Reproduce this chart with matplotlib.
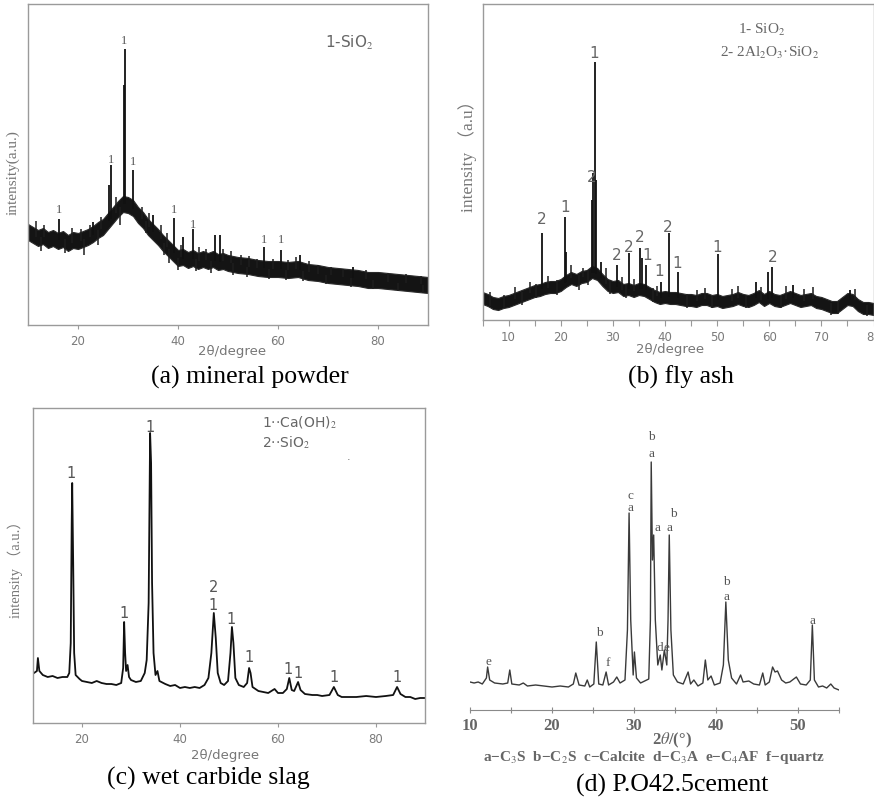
import matplotlib
matplotlib.use("Agg")
import matplotlib.pyplot as plt

plt.rcParams['mathtext.fontset'] = 'stix'

W, H = 874, 800
GREY = '#7a7a7a'
SERIF = 'Liberation Serif'

# ---------------- (a) mineral powder : noisy band + sharp peaks ----------------
base_a_x = [10, 11, 12, 13, 14, 15, 16, 17, 18, 19, 20, 21, 22, 23, 24, 25, 26, 27, 28,
            29, 30, 31, 32, 33, 34, 35, 36, 37, 38, 39, 40, 41, 42, 43, 44, 45, 46, 47,
            48, 49, 50, 52, 54, 56, 58, 60, 62, 64, 66, 68, 70, 72, 74, 76, 78, 80, 82,
            84, 86, 88, 90]
base_a_y = [93, 90, 87, 89, 85, 87, 84, 86, 82, 85, 84, 86, 88, 91, 95, 98, 104, 110, 116,
            121, 120, 117, 110, 105, 98, 93, 88, 82, 77, 72, 67, 68, 65, 67, 64, 66, 64, 66,
            63, 64, 62, 60, 59, 57, 56, 56, 55, 56, 53, 52, 50, 49, 48, 47, 45, 45, 44,
            43, 42, 41, 40]
noise_a = 8
peak_a_x = [16.2, 23.0, 26.2, 26.6, 29.2, 29.3, 31.0, 35.0, 39.2, 41.0, 43.0, 47.3, 48.3,
            57.2, 60.5, 64.3, 75.0]
peak_a_top = [106, 103, 140, 160, 240, 276, 155, 110, 107, 88, 96, 90, 90, 78, 75, 70, 58]
peak_a_foot = [85, 90, 104, 106, 121, 121, 116, 93, 72, 66, 66, 64, 63, 57, 56, 55, 47]
# small noise excursions (x, low end, high end)
spike_a_x = [11.5, 12.5, 13.2, 17.3, 18.7, 20.5, 21.2, 22.3, 24.0, 24.6, 27.6, 28.3, 32.8,
             33.5, 34.2, 36.5, 37.1, 37.8, 38.2, 40.0, 40.5, 43.5, 44.2, 45.5, 46.5, 49.0,
             50.5, 51.0, 52.6, 53.7, 54.1, 55.8, 58.2, 59.0, 61.5, 62.0, 63.5, 65.0, 66.2,
             68.0, 69.5, 70.5, 73.0, 74.5, 77.5, 79.0, 82.0, 84.0, 85.5, 88.5, 89.0]
spike_a_lo = [88, 74, 88, 72, 82, 84, 70, 88, 80, 96, 112, 100, 106, 92, 98, 86, 70, 78, 62,
              55, 68, 54, 64, 65, 52, 64, 62, 50, 60, 48, 58, 57, 46, 56, 45, 55, 56, 44, 53,
              51, 41, 50, 48, 38, 46, 36, 43, 34, 42, 41, 32]
spike_a_hi = [104, 88, 100, 86, 97, 96, 86, 100, 95, 108, 128, 118, 118, 104, 112, 100, 82,
              92, 76, 67, 80, 66, 78, 76, 64, 76, 74, 62, 70, 58, 69, 66, 56, 66, 55, 65, 68,
              54, 64, 60, 50, 58, 56, 47, 55, 45, 52, 42, 51, 49, 40]
lab_a_x = [16.2, 26.6, 29.3, 31.0, 39.2, 43.0, 57.2, 60.6]
lab_a_y = [115, 165, 284, 163, 115, 100, 85, 85]
lab_a_t = ['1', '1', '1', '1', '1', '1', '1', '1']

# ---------------- (b) fly ash ----------------
base_b_x = list(range(5, 81))
base_b_y = [22, 20, 17, 16, 18, 19, 21, 23, 25, 27, 29, 30, 32, 33, 33, 35, 39, 42, 40, 43,
            44, 48, 46, 40, 35, 33, 34, 30, 31, 29, 31, 30, 27, 24, 22, 23, 22, 22, 21, 20,
            20, 19, 21, 21, 19, 20, 18, 19, 20, 22, 20, 19, 21, 24, 20, 23, 20, 19, 21, 23,
            21, 19, 20, 21, 18, 17, 15, 13, 13, 17, 21, 20, 15, 12, 12, 11]
noise_b = 6
peak_b_x = [16.4, 20.8, 21.1, 26.0, 26.2, 26.6, 26.8, 27.8, 30.8, 33.1, 35.2, 35.5, 36.4,
            39.2, 40.7, 42.5, 50.1, 57.5, 59.8, 60.5, 64.5, 75.5]
peak_b_top = [87, 103, 68, 120, 147, 258, 140, 58, 55, 67, 72, 62, 55, 38, 87, 48, 66, 38,
              48, 53, 35, 30]
peak_b_foot = [31, 37, 38, 47, 47, 47, 46, 42, 33, 31, 31, 31, 30, 22, 23, 22, 20, 22, 21,
               22, 22, 20]
spike_b_x = [6.5, 9.2, 11.3, 12.6, 14.1, 15.2, 17.6, 19.2, 22.0, 23.5, 24.3, 25.2, 28.6,
             29.5, 31.8, 32.5, 34.1, 37.8, 38.5, 44.2, 46.1, 47.6, 49.0, 52.8, 54.0, 55.6,
             58.4, 62.2, 63.3, 66.7, 68.3, 71.8, 73.2, 76.4, 78.8]
spike_b_lo = [14, 12, 21, 15, 27, 22, 32, 25, 42, 30, 43, 35, 36, 26, 30, 22, 29, 18, 24,
              12, 19, 21, 12, 19, 22, 12, 20, 12, 21, 19, 21, 5, 6, 20, 4]
spike_b_hi = [28, 25, 33, 28, 38, 36, 44, 40, 55, 45, 52, 50, 52, 40, 43, 35, 41, 32, 34,
              26, 30, 32, 24, 31, 34, 24, 33, 24, 34, 31, 33, 17, 18, 31, 15]
lab_b_x = [16.4, 20.8, 25.9, 26.5, 30.8, 33.1, 35.2, 36.5, 38.9, 40.6, 42.4, 50.0, 60.6]
lab_b_y = [100, 112, 143, 267, 65, 73, 82, 65, 48, 93, 57, 73, 62]
lab_b_t = ['2', '1', '2', '1', '2', '2', '2', '1', '1', '2', '1', '1', '2']

# ---------------- (c) wet carbide slag ----------------
trace_c_x = [10.2, 10.8, 11.0, 11.3, 12, 13, 14, 15, 16, 17, 17.4, 17.7, 17.9, 18.0, 18.2,
             18.4, 18.7, 19.5, 20, 21, 22, 23, 24, 25, 26, 27, 28, 28.4, 28.6, 28.8, 29.0,
             29.3, 29.6, 30, 31, 32, 32.8, 33.2, 33.6, 33.9, 34.1, 34.3, 34.6, 35.0, 35.4,
             35.8, 37, 38, 39, 40, 41, 42, 43, 44, 45, 45.8, 46.4, 46.9, 47.3, 47.7, 48.3,
             49, 49.8, 50.3, 50.6, 50.9, 51.3, 52, 53, 53.7, 54.1, 54.4, 54.8, 56, 57, 58,
             59.3, 60, 61, 61.8, 62.3, 62.8, 63.3, 64.1, 64.6, 65.5, 67, 68, 69, 70.5, 71.4,
             72.2, 73, 74, 76, 78, 80, 82, 83.5, 84.3, 85, 86, 87, 88, 89, 90]
trace_c_y = [50, 52, 65, 52, 48, 46, 47, 45, 46, 46, 50, 80, 200, 240, 160,
             70, 48, 44, 42, 41, 40, 42, 40, 39, 39, 38, 40, 55, 101, 70, 52,
             58, 46, 43, 41, 42, 50, 63, 120, 290, 260, 140, 70, 48, 52,
             42, 39, 37, 38, 35, 36, 35, 36, 35, 38, 45, 70, 110, 85, 50, 40,
             38, 42, 70, 96, 80, 45, 38, 36, 40, 55, 50, 36, 32, 31, 30,
             34, 30, 30, 34, 45, 33, 32, 41, 33, 29, 28, 28, 27, 28, 36,
             28, 26, 26, 26, 27, 26, 27, 28, 36, 29, 26, 26, 24, 25, 25]
lab_c_x = [17.8, 28.6, 33.9, 46.8, 46.8, 50.5, 54.0, 62.0, 64.1, 71.4, 84.2]
lab_c_y = [250, 110, 296, 117, 136, 103, 66, 54, 50, 45, 46]
lab_c_t = ['1', '1', '1', '1', '2', '1', '1', '1', '1', '1', '1']

# ---------------- (d) P.O42.5 cement ----------------
trace_d_x = [10, 10.5, 11, 11.5, 12.0, 12.15, 12.4, 13, 14, 14.6, 14.85, 15.1, 16, 16.5, 17,
             18, 19, 20, 21, 22, 22.6, 22.9, 23.3, 24, 24.3, 24.6, 25.1, 25.4, 25.7, 26.2,
             26.6, 26.9, 27.5, 27.9, 28.3, 28.9, 29.2, 29.4, 29.6, 29.9, 30.05, 30.3, 30.8,
             31.3, 31.8, 32.0, 32.1, 32.25, 32.4, 32.6, 32.9, 33.2, 33.4, 33.7, 34.0, 34.15,
             34.3, 34.5, 34.8, 35.3, 36, 36.6, 36.9, 37.3, 37.8, 38.4, 38.7, 39.0, 39.4, 39.8,
             40.5, 40.9, 41.2, 41.5, 41.9, 42.5, 43.0, 43.3, 44, 44.6, 45.3, 45.7, 46.0, 46.5,
             46.9, 47.2, 47.5, 48, 48.5, 49, 49.8, 50.3, 51, 51.5, 51.75, 52.0, 52.5, 53,
             53.5, 54, 54.4, 55]
trace_d_y = [28, 27, 28, 26, 32, 43, 30, 27, 26, 27, 40, 26, 25, 27, 24,
             25, 24, 23, 24, 23, 26, 37, 25, 24, 30, 23, 26, 68, 26, 25,
             38, 25, 28, 33, 27, 30, 80, 197, 90, 35, 58, 32, 27,
             29, 31, 90, 248, 150, 175, 90, 45, 55, 40, 60, 45, 90,
             175, 80, 35, 28, 26, 38, 26, 30, 24, 27, 50, 30, 34, 25,
             27, 45, 108, 50, 32, 26, 35, 28, 29, 26, 25, 37, 25, 28,
             43, 38, 39, 30, 27, 28, 33, 26, 25, 30, 85, 30, 23, 24,
             22, 26, 22, 20]
lab_d_x = [12.2, 25.8, 26.8, 29.6, 29.6, 32.1, 32.1, 32.9, 34.3, 34.8, 33.2, 34.0, 41.3, 41.3, 51.8]
lab_d_y = [48, 77, 47, 202, 214, 256, 273, 182, 182, 196, 62, 62, 113, 128, 89]
lab_d_t = ['e', 'b', 'f', 'a', 'c', 'a', 'b', 'a', 'a', 'b', 'd', 'e', 'a', 'b', 'a']


def rect(x0, y0, x1, y1):
    # pixel box (top-left origin) -> figure fraction
    return [x0 / W, 1 - y1 / H, (x1 - x0) / W, (y1 - y0) / H]


def ftext(x, y, s, **kw):
    fig.text(x / W, 1 - y / H, s, **kw)


def frame(ax, xlim, ylim, major, minor=None):
    ax.set_xlim(*xlim)
    ax.set_ylim(*ylim)
    ax.set_yticks([])
    ax.set_xticks(major)
    if minor is not None:
        ax.set_xticks(minor, minor=True)
    for s in ax.spines.values():
        s.set_color('#9a9a9a')
        s.set_linewidth(1.0)
    ax.tick_params(axis='x', which='both', direction='out', length=3, width=0.8,
                   colors='#9a9a9a', labelcolor=GREY, labelsize=8.5, pad=4)


def band_plot(ax, bx, by, noise, px, ptop, pfoot, sx, slo, shi):
    lo = [v - noise for v in by]
    hi = [v + noise for v in by]
    ax.fill_between(bx, lo, hi, color='#141414', lw=0.8, edgecolor='#2a2a2a')
    ax.vlines(sx, slo, shi, color='#1e1e1e', lw=1.1)
    ax.vlines(px, pfoot, ptop, color='#111111', lw=1.3)


fig = plt.figure(figsize=(W / 100, H / 100), dpi=100)

# (a)
ax = fig.add_axes(rect(28, 4, 428, 325))
band_plot(ax, base_a_x, base_a_y, noise_a, peak_a_x, peak_a_top, peak_a_foot,
          spike_a_x, spike_a_lo, spike_a_hi)
frame(ax, (10, 90), (0, 321), [20, 40, 60, 80])
for x, y, t in zip(lab_a_x, lab_a_y, lab_a_t):
    ax.text(x, y, t, ha='center', va='center', fontsize=9, color='#555555', family=SERIF)
ftext(325, 43, '1-SiO$_2$', fontsize=11, color='#666666', va='center')
ftext(13, 173, 'intensity(a.u.)', rotation=90, ha='center', va='center',
      fontsize=11, color='#777777', family=SERIF)
ftext(232, 351, '2θ/degree', ha='center', va='center', fontsize=9.5, color='#777777')
ftext(250, 377, '(a) mineral powder', ha='center', va='center', fontsize=18.5, family=SERIF)

# (b)
ax = fig.add_axes(rect(482.5, 4, 873.5, 320))
band_plot(ax, base_b_x, base_b_y, noise_b, peak_b_x, peak_b_top, peak_b_foot,
          spike_b_x, spike_b_lo, spike_b_hi)
frame(ax, (5, 80), (0, 316), list(range(10, 81, 10)), list(range(5, 81, 5)))
ax.tick_params(axis='x', which='both', length=4)
for x, y, t in zip(lab_b_x, lab_b_y, lab_b_t):
    ax.text(x, y, t, ha='center', va='center', fontsize=11, color='#666666')
ftext(738, 30, '1- SiO$_2$', fontsize=11, color='#666666', va='center', family=SERIF)
ftext(720, 53, '2- 2Al$_2$O$_3$·SiO$_2$', fontsize=11, color='#666666', va='center', family=SERIF)
ftext(468, 152, 'intensity （a.u）', rotation=90, ha='center', va='center',
      fontsize=12.5, color='#777777', family=[SERIF, 'Noto Sans CJK SC'])
ftext(670, 350, '2θ/degree', ha='center', va='center', fontsize=9.5, color='#777777')
ftext(681, 377, '(b) fly ash', ha='center', va='center', fontsize=18.5, family=SERIF)

# (c)
ax = fig.add_axes(rect(33, 408, 425, 723))
ax.plot(trace_c_x, trace_c_y, color='#111111', lw=1.3)
frame(ax, (10, 90), (0, 315), [20, 40, 60, 80])
for x, y, t in zip(lab_c_x, lab_c_y, lab_c_t):
    ax.text(x, y, t, ha='center', va='center', fontsize=10.5, color='#555555')
ftext(262, 423, '1··Ca(OH)$_2$', fontsize=10, color='#666666', va='center')
ftext(262, 443, '2··SiO$_2$', fontsize=10, color='#666666', va='center')
ftext(347, 457, '.', fontsize=8, color='#666666', va='center')
ftext(15, 566, 'intensity （a.u.）', rotation=90, ha='center', va='center',
      fontsize=10.5, color='#777777', family=[SERIF, 'Noto Sans CJK SC'])
ftext(225, 756, '2θ/degree', ha='center', va='center', fontsize=9.5, color='#777777')
ftext(208, 778, '(c) wet carbide slag', ha='center', va='center', fontsize=18.5, family=SERIF)

# (d)
ax = fig.add_axes(rect(470, 430, 839, 710))
ax.plot(trace_d_x, trace_d_y, color='#3a3a3a', lw=1.0)
ax.set_xlim(10, 55)
ax.set_ylim(0, 280)
ax.set_yticks([])
ax.set_xticks(range(10, 51, 10))
ax.set_xticks(range(10, 56, 5), minor=True)
for k in ('top', 'left', 'right'):
    ax.spines[k].set_visible(False)
ax.spines['bottom'].set_color('#8a8a8a')
ax.tick_params(axis='x', which='both', direction='inout', length=5, width=0.8,
               colors='#8a8a8a', labelcolor='#666666', labelsize=12, pad=3)
for lb in ax.get_xticklabels():
    lb.set_family(SERIF)
    lb.set_fontweight('bold')
for x, y, t in zip(lab_d_x, lab_d_y, lab_d_t):
    ax.text(x, y, t, ha='center', va='center', fontsize=9.5, color='#555555', family=SERIF)
ftext(672, 740, r'2$\theta$/(°)', ha='center', va='center', fontsize=12,
      color='#666666', family=SERIF, fontweight='bold')
ftext(654, 757, 'a−C$_3$S  b−C$_2$S  c−Calcite  d−C$_3$A  e−C$_4$AF  f−quartz',
      ha='center', va='center', fontsize=11, color='#666666', family=SERIF, fontweight='bold')
ftext(672, 785, '(d) P.O42.5cement', ha='center', va='center', fontsize=18.5, family=SERIF)

fig.savefig('out.png', dpi=100, facecolor='white')
